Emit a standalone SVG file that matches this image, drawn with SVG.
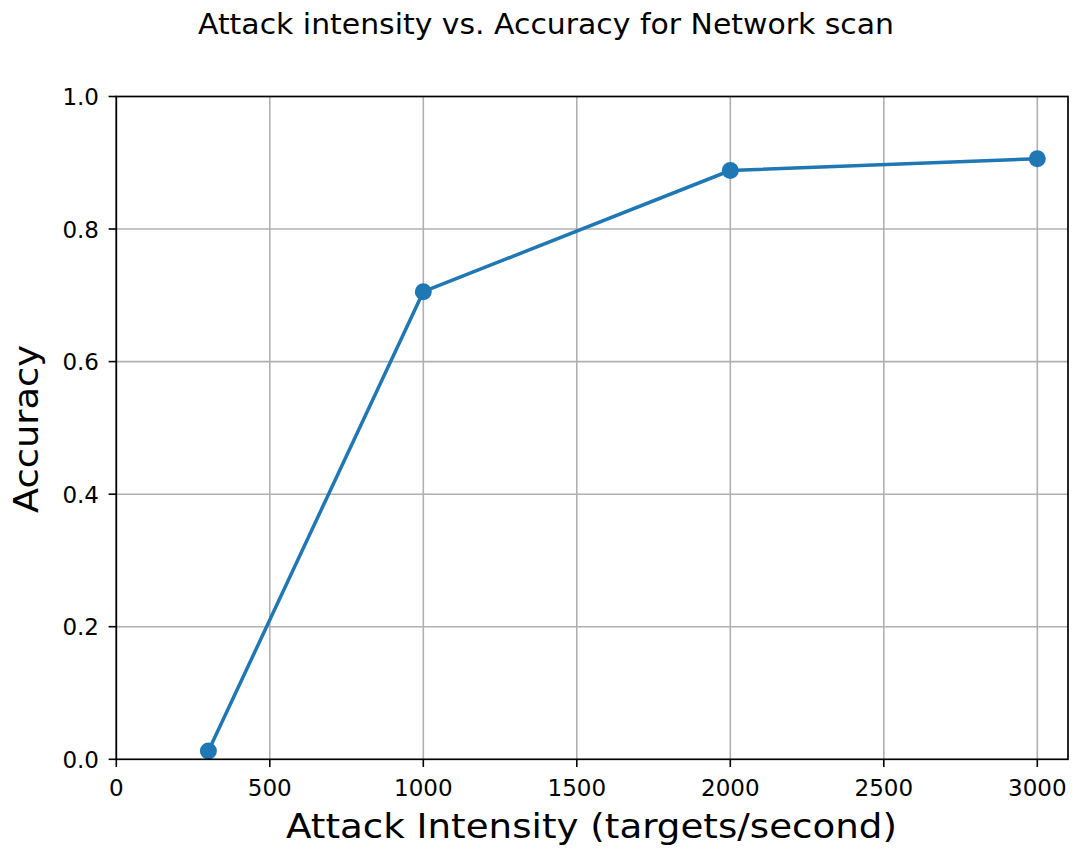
<svg xmlns="http://www.w3.org/2000/svg" width="1075" height="853" viewBox="0 0 1075 853">
<style>
text{font-family:"DejaVu Sans","Liberation Sans",sans-serif;fill:#000}
.tick{font-size:23px}
.grid line{stroke:#b0b0b0;stroke-width:1.6}
.ticks line{stroke:#000;stroke-width:1.6}
</style>
<rect width="1075" height="853" fill="#fff"/>
<text x="546" y="33.5" font-size="28.5" text-anchor="middle" textLength="696" lengthAdjust="spacingAndGlyphs">Attack intensity vs. Accuracy for Network scan</text>
<g class="grid">
<line x1="116.3" y1="96.5" x2="116.3" y2="759.3"/>
<line x1="269.8" y1="96.5" x2="269.8" y2="759.3"/>
<line x1="423.3" y1="96.5" x2="423.3" y2="759.3"/>
<line x1="576.8" y1="96.5" x2="576.8" y2="759.3"/>
<line x1="730.3" y1="96.5" x2="730.3" y2="759.3"/>
<line x1="883.8" y1="96.5" x2="883.8" y2="759.3"/>
<line x1="1037.3" y1="96.5" x2="1037.3" y2="759.3"/>
<line x1="116.3" y1="626.7" x2="1068" y2="626.7"/>
<line x1="116.3" y1="494.2" x2="1068" y2="494.2"/>
<line x1="116.3" y1="361.6" x2="1068" y2="361.6"/>
<line x1="116.3" y1="229.0" x2="1068" y2="229.0"/>
</g>
<g id="series">
<polyline points="208.4,751 423.3,291.7 730.3,170.5 1037.3,158.8" fill="none" stroke="#1f77b4" stroke-width="3.5" stroke-linejoin="round"/>
<g fill="#1f77b4">
<circle cx="208.4" cy="751" r="8.5"/>
<circle cx="423.3" cy="291.7" r="8.5"/>
<circle cx="730.3" cy="170.5" r="8.5"/>
<circle cx="1037.3" cy="158.8" r="8.5"/>
</g>
</g>
<rect x="116.3" y="96.5" width="951.7" height="662.8" fill="none" stroke="#000" stroke-width="1.7"/>
<g class="ticks">
<line x1="116.3" y1="759.3" x2="116.3" y2="767"/>
<line x1="269.8" y1="759.3" x2="269.8" y2="767"/>
<line x1="423.3" y1="759.3" x2="423.3" y2="767"/>
<line x1="576.8" y1="759.3" x2="576.8" y2="767"/>
<line x1="730.3" y1="759.3" x2="730.3" y2="767"/>
<line x1="883.8" y1="759.3" x2="883.8" y2="767"/>
<line x1="1037.3" y1="759.3" x2="1037.3" y2="767"/>
<line x1="108.6" y1="759.3" x2="116.3" y2="759.3"/>
<line x1="108.6" y1="626.7" x2="116.3" y2="626.7"/>
<line x1="108.6" y1="494.2" x2="116.3" y2="494.2"/>
<line x1="108.6" y1="361.6" x2="116.3" y2="361.6"/>
<line x1="108.6" y1="229.0" x2="116.3" y2="229.0"/>
<line x1="108.6" y1="96.5" x2="116.3" y2="96.5"/>
</g>
<g class="tick" text-anchor="middle">
<text x="116.3" y="795.5">0</text>
<text x="269.8" y="795.5">500</text>
<text x="423.3" y="795.5">1000</text>
<text x="576.8" y="795.5">1500</text>
<text x="730.3" y="795.5">2000</text>
<text x="883.8" y="795.5">2500</text>
<text x="1037.3" y="795.5">3000</text>
</g>
<g class="tick" text-anchor="end">
<text x="99" y="767.8">0.0</text>
<text x="99" y="635.2">0.2</text>
<text x="99" y="502.7">0.4</text>
<text x="99" y="370.1">0.6</text>
<text x="99" y="237.5">0.8</text>
<text x="99" y="105">1.0</text>
</g>
<text x="591.5" y="838" font-size="34" text-anchor="middle" textLength="611" lengthAdjust="spacingAndGlyphs">Attack Intensity (targets/second)</text>
<text transform="translate(38,429) rotate(-90)" font-size="34" text-anchor="middle" textLength="168" lengthAdjust="spacingAndGlyphs">Accuracy</text>
</svg>
